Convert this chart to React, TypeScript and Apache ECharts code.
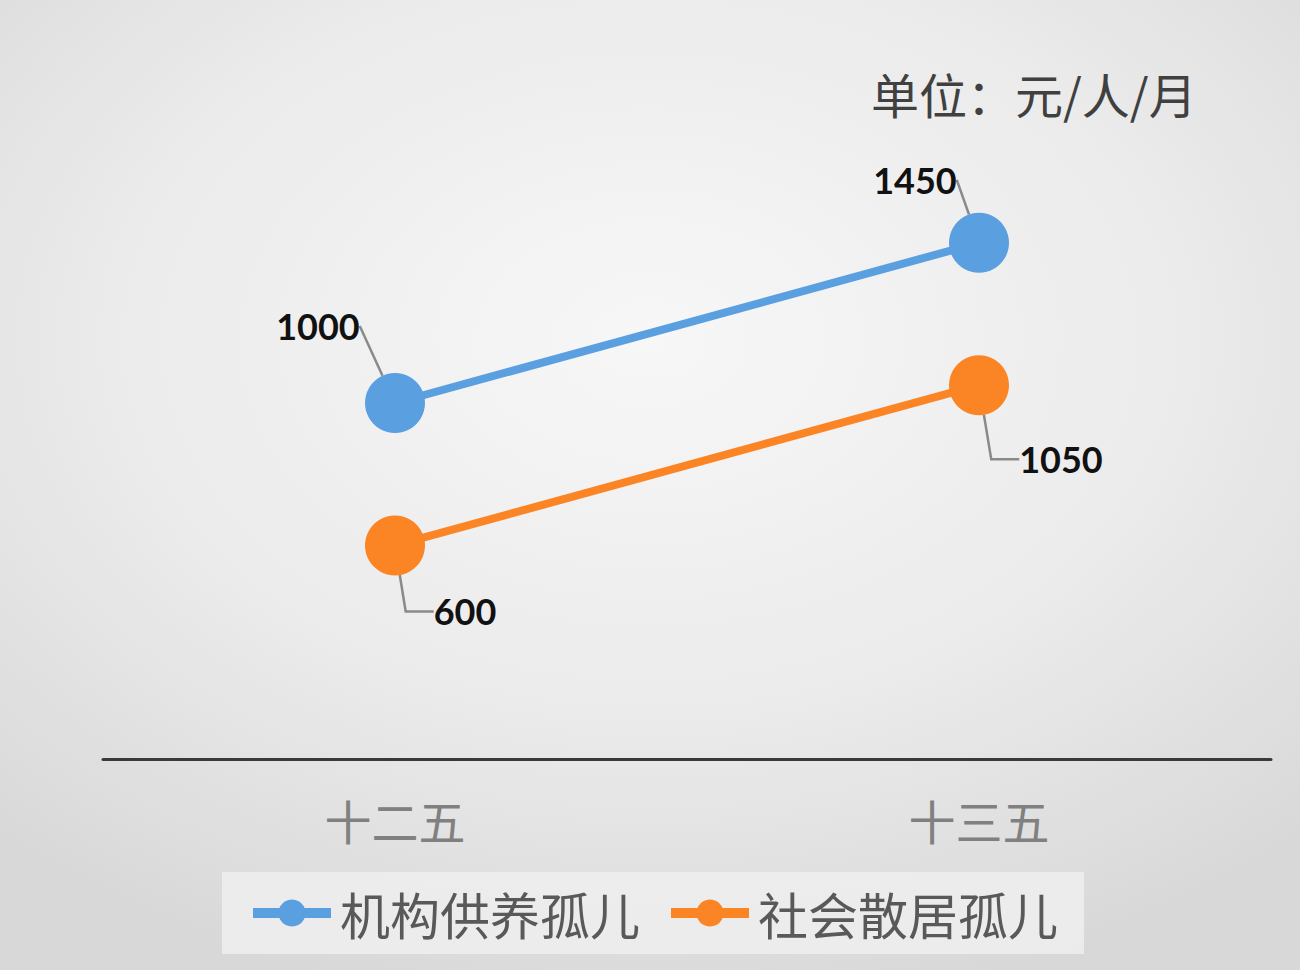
import React, { useEffect, useRef } from 'react'
import * as echarts from 'echarts'

const periods = ['十二五', '十三五']
const institutionalValues = [1000, 1450]
const scatteredValues = [600, 1050]
const seriesNames = ['机构供养孤儿', '社会散居孤儿']
const unitText = '单位：元/人/月'

const BLUE = '#5a9fe0'
const ORANGE = '#fb8424'
const CJK = '"Noto Sans CJK SC", "Noto Sans", sans-serif'

// label centre offset from the point centre, [series][dataIndex]
const labelOffsets = [
  [[-77, -77], [-64, -63]],
  [[70, 66], [82, 74]]
]

const App: React.FC = () => {
  const chartRef = useRef<HTMLDivElement>(null)

  useEffect(() => {
    if (!chartRef.current) return
    const chart = echarts.init(chartRef.current, undefined, { renderer: 'svg' })

    const makeSeries = (name: string, values: number[], color: string, idx: number) => ({
      name,
      type: 'line',
      data: values,
      symbol: 'circle',
      symbolSize: 60,
      lineStyle: { color, width: 8 },
      itemStyle: { color },
      z: 2,
      label: {
        show: true,
        fontFamily: 'Lato, "Liberation Sans", sans-serif',
        fontSize: 36,
        fontWeight: 'bold',
        color: '#111'
      },
      labelLine: {
        show: true,
        length2: idx === 1 ? 28 : 0,
        lineStyle: { color: '#8a8a8a', width: 2.5 }
      },
      labelLayout: (params: any) => {
        const r = params.rect
        const off = labelOffsets[idx][params.dataIndex] || [0, 0]
        return {
          x: r.x + r.width / 2 + off[0],
          y: r.y + r.height / 2 + off[1],
          align: 'center',
          verticalAlign: 'middle'
        }
      }
    })

    const option: echarts.EChartsOption = {
      animation: false,
      backgroundColor: 'transparent',
      title: {
        text: unitText,
        left: 866,
        top: 64,
        textStyle: {
          fontFamily: CJK,
          fontSize: 48,
          fontWeight: 'normal',
          color: '#404040'
        }
      },
      grid: {
        left: 103,
        width: 1168,
        top: 47,
        height: 712
      },
      xAxis: {
        type: 'category',
        data: periods,
        boundaryGap: true,
        axisLine: { lineStyle: { color: '#3a3a3a', width: 3 } },
        axisTick: { show: false },
        axisLabel: {
          margin: 37,
          fontFamily: CJK,
          fontSize: 47,
          color: '#808080'
        }
      },
      yAxis: {
        type: 'value',
        min: 0,
        max: 2000,
        show: false,
        splitLine: { show: false }
      },
      legend: {
        left: 222,
        top: 872,
        padding: [16, 26, 16, 26],
        backgroundColor: 'rgba(238,238,238,0.85)',
        itemWidth: 78,
        itemHeight: 34,
        itemGap: 26,
        lineStyle: { width: 10 },
        textStyle: {
          fontFamily: CJK,
          fontSize: 50,
          color: '#595959',
          padding: [0, 0, 0, 4]
        },
        data: seriesNames
      },
      series: [
        makeSeries(seriesNames[0], institutionalValues, BLUE, 0),
        makeSeries(seriesNames[1], scatteredValues, ORANGE, 1)
      ] as any
    }

    chart.setOption(option)

    return () => {
      chart.dispose()
    }
  }, [])

  return (
    <div
      style={{
        position: 'absolute',
        left: 0,
        top: 0,
        width: 1300,
        height: 970,
        background:
          'radial-gradient(ellipse 75% 70% at 50% 35%, #f7f7f7 0%, #ebebeb 55%, #d8d8d8 100%)'
      }}
    >
      <div ref={chartRef} style={{ width: 1300, height: 970 }} />
    </div>
  )
}

export default App
